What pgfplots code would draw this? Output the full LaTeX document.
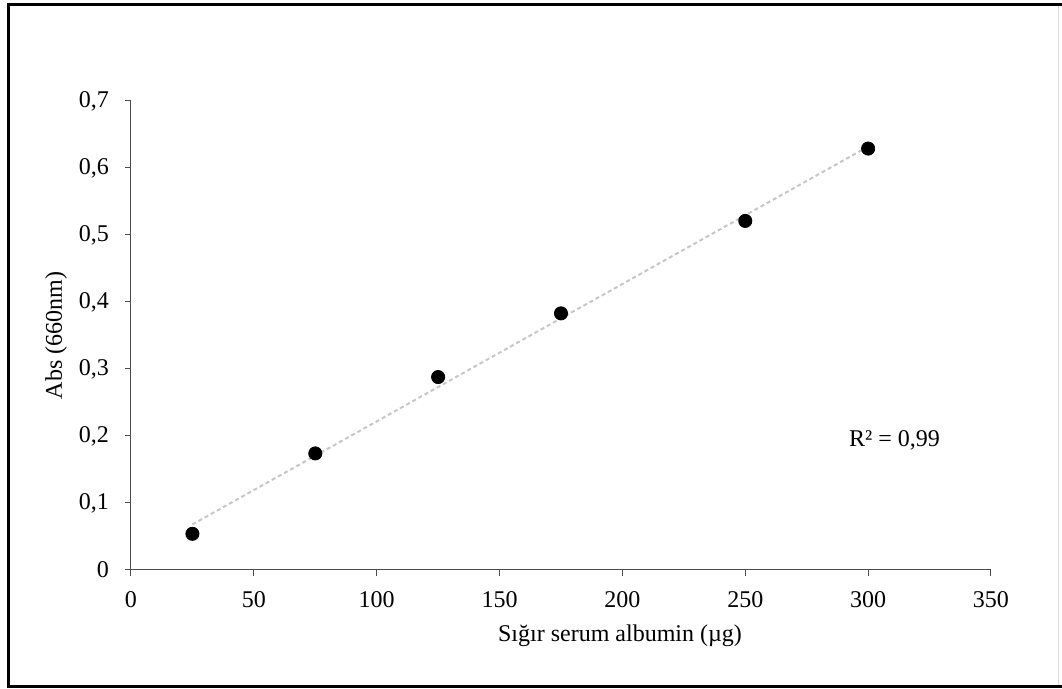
\documentclass[border=0pt]{standalone}
\usepackage{fontspec}
\setmainfont{Liberation Serif}
\usepackage{pgfplots}
\pgfplotsset{compat=1.18}

\begin{document}
\begin{tikzpicture}
\path[use as bounding box] (-65.5pt,-59.5pt) rectangle (465.5pt,285pt);
% outer frame (right side cropped in the original)
\draw[black!15, line width=0.5pt] (463.5pt,282.5pt) -- (463.5pt,-58.5pt);
\draw[black, line width=1.5pt] (465.5pt,282.5pt) -- (-61.25pt,282.5pt) -- (-61.25pt,-58.5pt) -- (465.5pt,-58.5pt);

\begin{axis}[
    at={(0,0)}, anchor=south west,
    scale only axis,
    width=430pt, height=234.5pt,
    xmin=0, xmax=350, ymin=0, ymax=0.7,
    axis lines=left,
    axis line style={black!70, line width=0.5pt, -},
    xtick={0,50,...,350},
    ytick={0,0.1,...,0.7},
    tick align=outside,
    major tick length=3pt,
    tick style={black!70, line width=0.5pt},
    font=\fontsize{12}{14}\selectfont,
    xticklabel style={yshift=-4pt},
    yticklabel style={xshift=-4.5pt},
    /pgf/number format/assume math mode=true,
    /pgf/number format/use comma,
    /pgf/number format/fixed,
    /pgf/number format/precision=1,
    scaled y ticks=false,
    xlabel={Sığır serum albumin (µg)},
    ylabel={Abs (660nm)},
    xlabel style={at={(axis description cs:0.5686,-0.1535)}, anchor=base},
    ylabel style={at={(axis description cs:-0.0872,0.5)}, anchor=center},
    clip=false,
]
% linear trend line
\addplot[black!22, line width=1pt, dash pattern=on 2pt off 1.5pt] coordinates {
    (25,0.068) (300,0.632)
};
% measured points
\addplot[only marks, mark=*, mark size=3.3pt, black] coordinates {
    (25,0.054)
    (75,0.174)
    (125,0.288)
    (175,0.383)
    (250,0.521)
    (300,0.629)
};
\node[anchor=base west, font=\fontsize{12}{14}\selectfont] at (axis cs:289.4,0.185) {R² = 0,99};
\end{axis}
\end{tikzpicture}
\end{document}
